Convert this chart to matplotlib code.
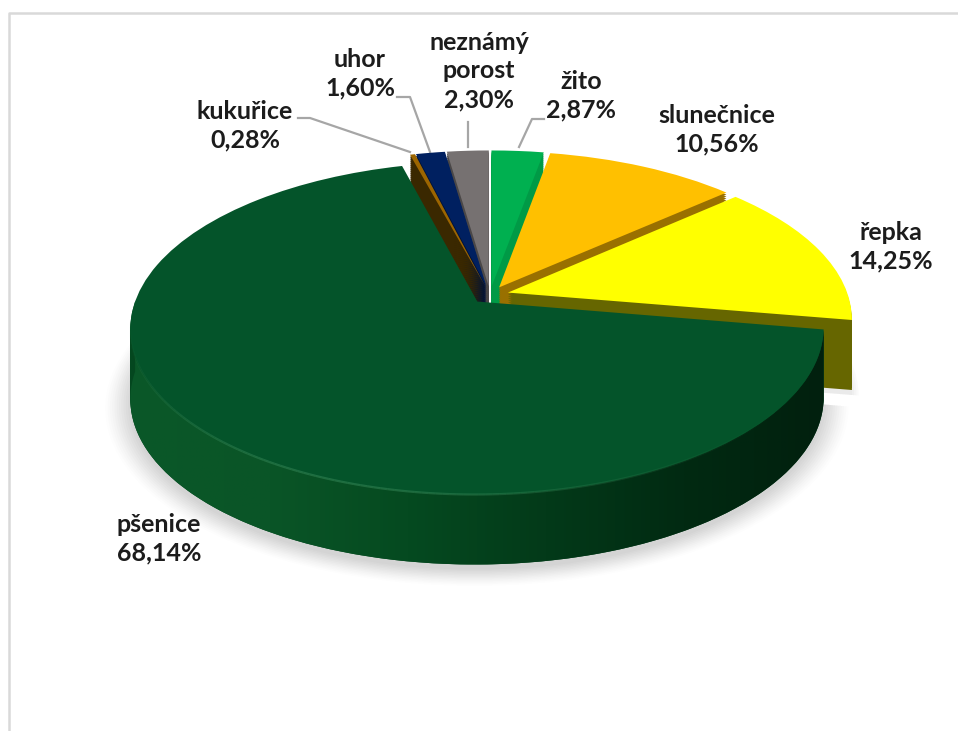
import matplotlib
matplotlib.use("Agg")
import matplotlib.pyplot as plt
import numpy as np
from matplotlib.collections import LineCollection
from matplotlib.colors import LinearSegmentedColormap
from matplotlib.patches import PathPatch
from matplotlib.path import Path
from matplotlib.transforms import Transform

names = ["žito", "slunečnice", "řepka", "pšenice", "kukuřice", "uhor", "neznámý\nporost"]
shares = [2.87, 10.56, 14.25, 68.14, 0.28, 1.60, 2.30]
share_labels = ["2,87%", "10,56%", "14,25%", "68,14%", "0,28%", "1,60%", "2,30%"]
top_colors = ["#00b050", "#ffc000", "#ffff00", "#04542a", "#9c6500", "#002060", "#767171"]
side_colors = ["#009a46", "#997000", "#666600", "#04471f", "#3a2800", "#001238", "#4a4747"]
label_xy = [(581, 96), (717, 130), (891, 247), (159, 539), (245, 126), (360, 74), (479, 71)]
leaders = [
    [(544, 119), (532, 119), (519, 147)],
    None, None, None,
    [(298, 118), (310, 118), (410, 152)],
    [(397, 97), (410, 97), (430, 152)],
    [(468, 122), (468, 147)],
]

# pie plane to picture pixels, with a bit of perspective
CX, CY = 490, 295
SX, SY, K = 340, 160, 0.159
DEPTH = 70


class Tilt(Transform):
    input_dims = 2
    output_dims = 2

    def __init__(self, drop=0):
        super().__init__()
        self.drop = drop

    def transform_non_affine(self, values):
        values = np.asarray(values, dtype=float)
        w = 1 + K * values[:, 1]
        return np.column_stack([CX + SX * values[:, 0] / w,
                                CY - SY * values[:, 1] / w + self.drop])


def rim(theta_deg, offset, drop):
    # outer edge of a slice, theta counted anticlockwise in the pie plane
    t = np.radians(theta_deg)
    xy = np.column_stack([np.cos(t) + offset[0], np.sin(t) + offset[1]])
    return Tilt(drop).transform_non_affine(xy)


fig = plt.figure(figsize=(9.58, 7.31), dpi=100)
ax = fig.add_axes([0, 0, 1, 1])

explode = [0.055] * len(shares)


def draw_pie(colors, drop, radius=1.0, alpha=None):
    wedges, _ = ax.pie(shares, explode=explode, colors=colors, startangle=90,
                       counterclock=False, radius=radius)
    for w in wedges:
        w.set_transform(Tilt(drop) + ax.transData)
        w.set_linewidth(0)
        if alpha is not None:
            w.set_alpha(alpha)
    return wedges


# soft shadow under the pie, yellow slice only gets the inner part
for grow, a in zip(np.linspace(1.07, 1.0, 12), np.linspace(0.015, 0.045, 12)):
    wedges = draw_pie(["#808080"] * len(shares), DEPTH + 5, radius=grow, alpha=a)
    for i, w in enumerate(wedges):
        if i != 3 and not (i == 2 and grow <= 1.025):
            w.remove()

# slices are painted back to front
order = [6, 5, 4, 0, 1, 2, 3]
for i in order:
    for drop in range(DEPTH, 0, -2):
        wedges = draw_pie(side_colors, drop)
        for j, w in enumerate(wedges):
            if j != i:
                w.remove()

    if i == 3:
        # wheat's rounded side gets a left to right gradient
        frac = np.cumsum([0] + shares) / sum(shares)
        t1 = 90 - 360 * frac[3]
        t2 = 90 - 360 * frac[4]
        mid = np.radians((t1 + t2) / 2)
        off = (0.055 * np.cos(mid), 0.055 * np.sin(mid))
        theta = np.linspace(t1, max(t2, -180), 200)
        poly = np.vstack([rim(theta, off, 0), rim(theta[::-1], off, DEPTH)])
        clip = PathPatch(Path(poly, closed=False), transform=ax.transData,
                         facecolor="none", edgecolor="none")
        ax.add_patch(clip)
        cmap = LinearSegmentedColormap.from_list(
            "side", ["#0a5829", "#0a5527", "#054a20", "#033a19", "#012a12", "#01200e"])
        grad = ax.imshow(np.linspace(0, 1, 256)[None, :], cmap=cmap, aspect="auto",
                         extent=(poly[:, 0].min(), poly[:, 0].max(), poly[:, 1].max(), poly[:, 1].min()),
                         zorder=1)
        grad.set_clip_path(clip)
        # light rim along the front of the top face, fading out at both ends
        edge = rim(np.linspace(-20, -178, 160), off, 0)
        segs = np.stack([edge[:-1], edge[1:]], axis=1)
        fade = np.sin(np.linspace(0, np.pi, len(segs))) ** 2 * np.linspace(0.1, 1, len(segs))
        rgba = np.zeros((len(segs), 4))
        rgba[:, :3] = matplotlib.colors.to_rgb("#3a8c5c")
        rgba[:, 3] = fade * 0.85
        ax.add_collection(LineCollection(segs, colors=rgba, linewidths=1.6, zorder=1.3))

    wedges = draw_pie(top_colors, 0)
    for j, w in enumerate(wedges):
        if j != i:
            w.remove()
        else:
            w.set_zorder(1.2)

ax.set_aspect("auto")
ax.set_xlim(0, 958)
ax.set_ylim(731, 0)
ax.axis("off")

for name, label, xy, line in zip(names, share_labels, label_xy, leaders):
    ax.text(xy[0], xy[1], name + "\n" + label, ha="center", va="center",
            family="Lato", weight="bold", fontsize=18, color="#1c1c1c",
            linespacing=1.3, zorder=5)
    if line is not None:
        ax.plot([p[0] for p in line], [p[1] for p in line], color="#a6a6a6", lw=1.6, zorder=0.5)

# chart frame, cut off at the right and bottom of the screenshot
ax.plot([9, 9, 958], [731, 13, 13], color="#d9d9d9", lw=1.8, zorder=0.4)

fig.savefig("out.png", dpi=100)
